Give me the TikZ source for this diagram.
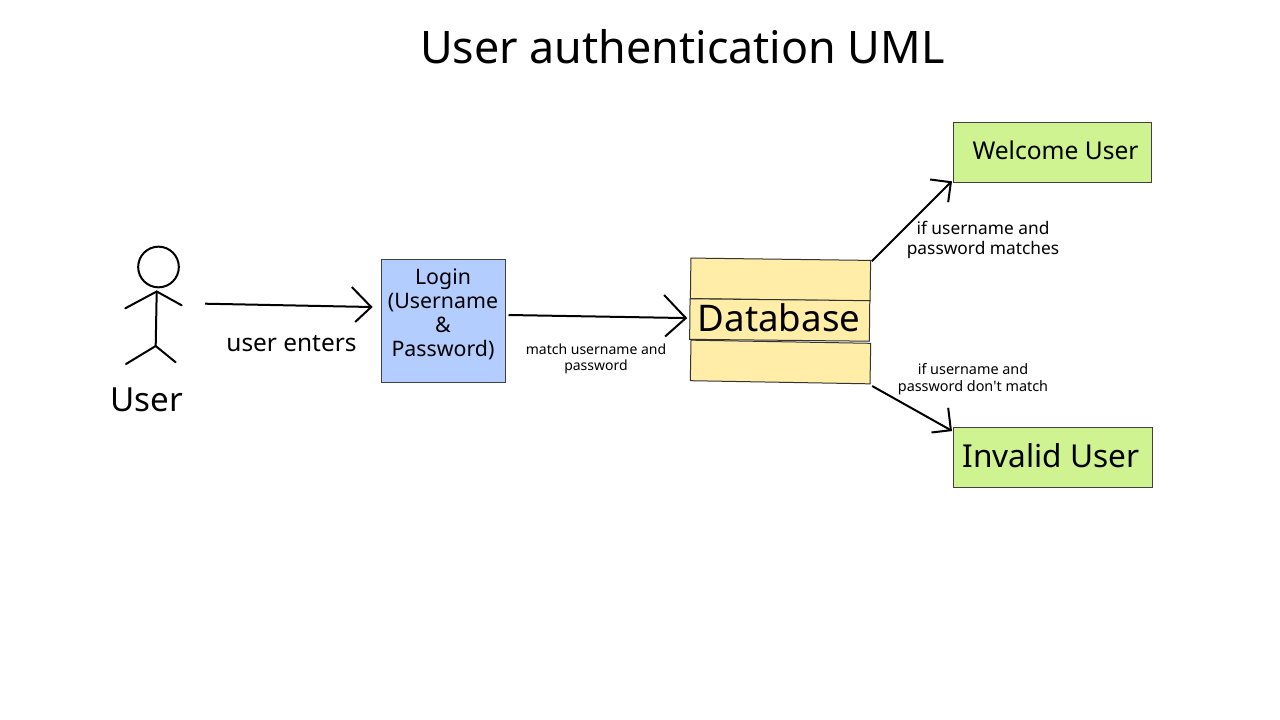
\documentclass[tikz,border=0pt]{standalone}
\usepackage{fontspec}
\setmainfont{Noto Sans}
\definecolor{loginblue}{RGB}{180,205,255}
\definecolor{resultgreen}{RGB}{206,243,144}
\definecolor{dbyellow}{RGB}{255,237,168}
\tikzset{
  conn/.style={line width=1.5pt,line join=miter},
  stick/.style={line width=1.5pt,line cap=round},
  loginbox/.style={draw=black!75,line width=0.75pt,fill=loginblue,minimum width=93pt,minimum height=92pt,inner sep=0pt,align=center,font=\fontsize{16}{18}\selectfont},
  resultbox/.style={draw=black!75,line width=0.75pt,fill=resultgreen,minimum width=149pt,minimum height=45pt,inner sep=0pt},
  dbbox/.style={draw=black!80,line width=0.75pt,fill=dbyellow,inner sep=0pt}
}
\begin{document}
\begin{tikzpicture}[x=0.75pt,y=-0.75pt]
\useasboundingbox (0,0) rectangle (1280,720);
\node[font=\fontsize{33.6}{40}\selectfont] (title) at (682.5,47) {User authentication UML};
\node[stick,draw,circle,minimum size=30.5pt,inner sep=0pt] (head) at (158.5,267) {};
\coordinate (neck) at (156.7,291.5);
\coordinate (hip) at (155.7,346);
\coordinate (handstart) at (205,303.7);
\draw[stick] (neck) -- (hip);
\draw[stick] (125.3,308.3) -- (neck) -- (181.7,305.3);
\draw[stick] (126,364) -- (hip) -- (175.7,362.3);
\node[font=\fontsize{24.9}{30}\selectfont] (userlabel) at (147,400) {User};
\node[loginbox] (login) at (443,321) {Login\\(Username\\\&\\Password)\\[-6pt]};
\node[dbbox,minimum width=134.8pt,minimum height=30.4pt,rotate=-0.75] (dbtop) at (780.5,279.5) {};
\node[dbbox,minimum width=134.8pt,minimum height=30.4pt,rotate=-1] (dbbot) at (780.5,362) {};
\node[dbbox,minimum width=134.8pt,minimum height=30.4pt,rotate=-0.6] (dbmid) at (779.7,320) {};
\node[font=\fontsize{27.5}{30}\selectfont] (dblabel) at (779,318) {Database};
\node[resultbox] (welcome) at (1052.5,153) {};
\node[font=\fontsize{18.4}{24}\selectfont] (welcomelabel) at (1055.5,150) {Welcome User};
\node[resultbox] (invalid) at (1053,457.5) {};
\node[font=\fontsize{23.7}{30}\selectfont] (invalidlabel) at (1051,456) {Invalid User};
\coordinate (logintip) at ([shift={(-9.3,-14)}]login.west);
\coordinate (dbtip) at ([shift={(-3.5,-1)}]dbmid.west);
\coordinate (logout) at ([shift={(3,-6)}]login.east);
\coordinate (welcometip) at ([shift={(-1.8,-1.3)}]welcome.south west);
\coordinate (invalidtip) at ([shift={(-2.3,3.2)}]invalid.north west);
\draw[conn] (handstart) -- (logintip);
\draw[conn] (logintip) ++(-19.4,-20) -- (logintip) -- ++(-16,15);
\draw[conn] (logout) -- (dbtip);
\draw[conn] (dbtip) ++(-21.7,-23) -- (dbtip) -- ++(-20.7,18.4);
\draw[conn] ([shift={(0.7,1.3)}]dbtop.north east) -- (welcometip);
\draw[conn] (welcometip) ++(-20.7,-2.7) -- (welcometip) -- ++(-2.7,20);
\draw[conn] ([shift={(1.7,1.7)}]dbbot.south east) -- (invalidtip);
\draw[conn] (invalidtip) ++(-2.7,-22.4) -- (invalidtip) -- ++(-19.4,2.3);
\node[font=\fontsize{18.3}{20}\selectfont] (enterslabel) at (291.5,344) {user enters};
\node[align=center,font=\fontsize{10.5}{12.5}\selectfont] (matchlabel) at (596,359) {match username and\\password};
\node[align=center,font=\fontsize{13}{15}\selectfont] (matcheslabel) at (983,240) {if username and\\password matches};
\node[align=center,font=\fontsize{10.8}{12.5}\selectfont] (nomatchlabel) at (973,379.5) {if username and\\password don\textquotesingle t match};
\end{tikzpicture}
\end{document}
